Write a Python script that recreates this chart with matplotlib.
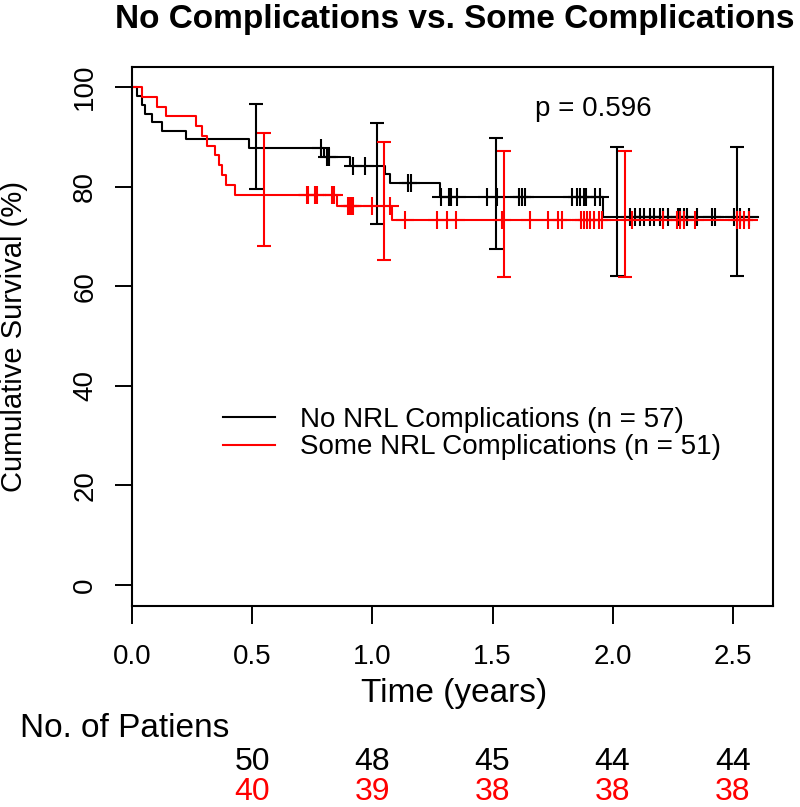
import numpy as np
import matplotlib
matplotlib.use("Agg")
import matplotlib.pyplot as plt
from matplotlib.lines import Line2D
from matplotlib.transforms import blended_transform_factory

plt.rcParams["font.family"] = ["Liberation Sans", "DejaVu Sans"]

# Kaplan-Meier steps (time in years, survival in %)
black_times = [0.0, 0.021, 0.039, 0.053, 0.081, 0.122, 0.224, 0.488, 0.80,
               0.907, 1.053, 1.074, 1.28, 1.96]
black_surv = [100, 98.2, 96.5, 94.7, 93.0, 91.2, 89.5, 87.7, 86.0,
              84.2, 82.5, 80.7, 77.9, 74.0]
black_end = 2.607
black_cens = [0.785, 0.81, 0.821, 0.918, 0.97, 1.15, 1.16, 1.285, 1.32, 1.328,
              1.352, 1.479, 1.52, 1.611, 1.622, 1.636, 1.831, 1.852, 1.865,
              1.879, 1.89, 1.928, 1.949, 2.074, 2.095, 2.113, 2.129, 2.157,
              2.174, 2.196, 2.21, 2.229, 2.271, 2.282, 2.296, 2.31, 2.352,
              2.414, 2.428, 2.504, 2.532, 2.567]

red_times = [0.0, 0.039, 0.104, 0.140, 0.265, 0.289, 0.313, 0.345, 0.36,
             0.373, 0.39, 0.428, 0.852, 1.08]
red_surv = [100, 98.0, 96.1, 94.1, 92.2, 90.2, 88.2, 86.3, 84.3,
            82.4, 80.4, 78.4, 76.1, 73.3]
red_end = 2.58
red_cens = [0.727, 0.733, 0.761, 0.768, 0.831, 0.840, 0.90, 0.907, 0.914,
            0.921, 0.997, 1.075, 1.136, 1.27, 1.31, 1.349, 1.54, 1.657, 1.733,
            1.771, 1.789, 1.868, 1.879, 1.894, 1.907, 1.921, 1.942, 1.956,
            2.081, 2.212, 2.268, 2.282, 2.296, 2.345, 2.518, 2.532, 2.546,
            2.567]

# confidence bars
black_ci_t = [0.515, 1.017, 1.515, 2.018, 2.518]
black_ci_lo = [79.5, 72.5, 67.5, 62.1, 62.1]
black_ci_hi = [96.7, 92.8, 89.8, 88.0, 88.0]
red_ci_t = [0.55, 1.049, 1.549, 2.05]
red_ci_lo = [68.0, 65.2, 61.8, 61.8]
red_ci_hi = [90.7, 89.0, 87.2, 87.2]

risk_times = [0.5, 1.0, 1.5, 2.0, 2.5]
n_black = [50, 48, 45, 44, 44]
n_red = [40, 39, 38, 38, 38]

labels = ["No NRL Complications (n = 57)", "Some NRL Complications (n = 51)"]
p_text = "p = 0.596"

W, H = 800, 807
fig = plt.figure(figsize=(W / 100, H / 100), dpi=100)
ax = fig.add_axes([132.3 / W, 1 - 605.7 / H, (773 - 132.3) / W, (605.7 - 66.7) / H])


def step_at(times, surv, t):
    idx = np.searchsorted(times, t, side="right") - 1
    return np.asarray(surv)[idx]


def draw_group(times, surv, end, cens, ci_t, ci_lo, ci_hi, color):
    ax.step(list(times) + [end], list(surv) + [surv[-1]], where="post",
            color=color, lw=1.5)
    ax.plot(cens, step_at(times, surv, cens), ls="none", marker="+",
            ms=13, mew=1.5, color=color)
    lo = np.array(ci_lo)
    hi = np.array(ci_hi)
    mid = (lo + hi) / 2
    ax.errorbar(ci_t, mid, yerr=[mid - lo, hi - mid], fmt="none",
                ecolor=color, elinewidth=1.5, capsize=5, capthick=1.5)


draw_group(black_times, black_surv, black_end, black_cens,
           black_ci_t, black_ci_lo, black_ci_hi, "black")
draw_group(red_times, red_surv, red_end, red_cens,
           red_ci_t, red_ci_lo, red_ci_hi, "#ff0000")

ax.set_xlim(0, 2.668)
ax.set_ylim(-4.16, 104.1)
ax.set_xticks([0.0, 0.5, 1.0, 1.5, 2.0, 2.5])
ax.set_xticklabels(["0.0", "0.5", "1.0", "1.5", "2.0", "2.5"])
ax.set_yticks([0, 20, 40, 60, 80, 100])
for s in ax.spines.values():
    s.set_linewidth(1.5)
ax.tick_params(axis="both", length=12.6, width=1.4, labelsize=20)
ax.tick_params(axis="x", pad=15)
ax.tick_params(axis="y", pad=12, labelrotation=90)
for lab in ax.get_yticklabels():
    lab.set_va("center")

ax.text(1.678, 95.6, p_text, ha="left", va="center", fontsize=20)

handles = [Line2D([], [], color="black", lw=1.5),
           Line2D([], [], color="#ff0000", lw=1.5)]
ax.legend(handles, labels, loc="upper left", frameon=False, fontsize=20,
          bbox_to_anchor=(222.7 / W, 1 - 407 / H), bbox_transform=fig.transFigure,
          borderpad=0, borderaxespad=0, handlelength=1.88, handletextpad=0.9,
          labelspacing=0.05)

fig.text(454.5 / W, 1 - 28 / H, "No Complications vs. Some Complications",
         ha="center", va="baseline", fontsize=24, fontweight="bold")
fig.text(14 / W, 1 - 336 / H, "Cumulative Survival (%)", rotation=90,
         ha="center", va="center", fontsize=21)
fig.text(454 / W, 1 - 701.7 / H, "Time (years)", ha="center", va="baseline",
         fontsize=24)
fig.text(20.4 / W, 1 - 736.7 / H, "No. of Patiens", ha="left", va="baseline",
         fontsize=24)

trans = blended_transform_factory(ax.transData, fig.transFigure)
for t, nb, nr in zip(risk_times, n_black, n_red):
    ax.text(t, 1 - 770 / H, str(nb), transform=trans, ha="center",
            va="baseline", fontsize=23, color="black", clip_on=False)
    ax.text(t, 1 - 800 / H, str(nr), transform=trans, ha="center",
            va="baseline", fontsize=23, color="#ff0000", clip_on=False)

fig.savefig("out.png", dpi=100)
